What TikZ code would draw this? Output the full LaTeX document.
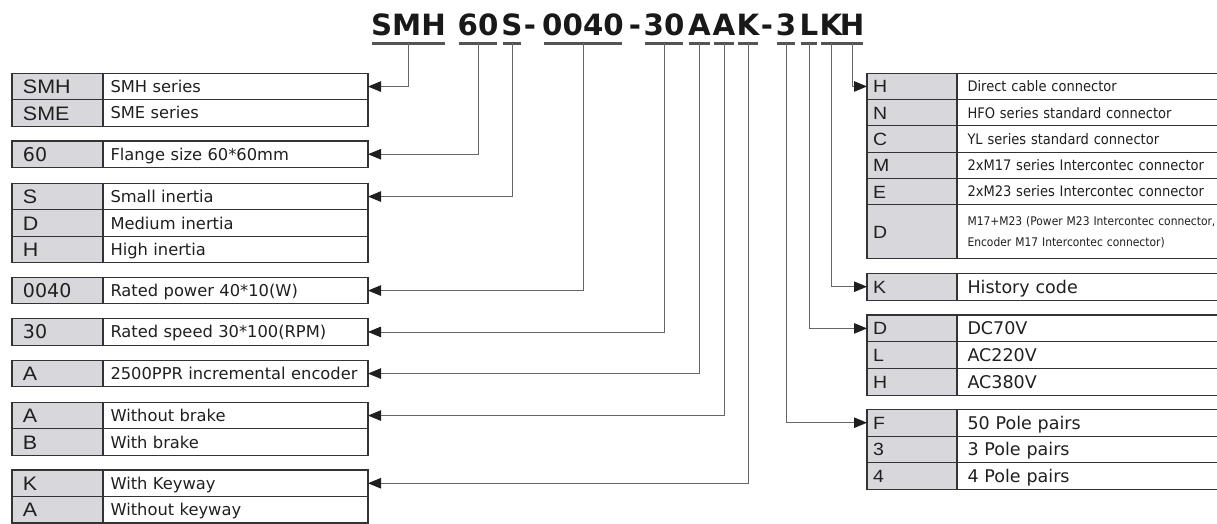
\documentclass[tikz,border=0pt]{standalone}
\usepackage{fontspec}
\setmainfont{DejaVu Sans}
\newfontfamily\codefont{Liberation Sans}[FakeStretch=1.1]
\newfontfamily\titlefont{DejaVu Sans}
\newfontfamily\narrowfont{DejaVu Sans}[FakeStretch=0.9]
\usepackage{tikz}
\usetikzlibrary{arrows.meta,positioning}
\definecolor{codegray}{RGB}{216,216,220}
\definecolor{rulegray}{RGB}{51,51,51}
\tikzset{
  >={Triangle[length=13pt,width=10.5pt,color=black!88]},
  cell/.style={draw=rulegray, line width=1.1pt, anchor=north west, align=left, inner ysep=0pt, outer sep=0pt, text=black!88},
  lcode/.style={cell, fill=codegray, text width=69pt, inner xsep=11pt, minimum height=26.5pt, font=\codefont\fontsize{19.5}{22}\selectfont, text height=14pt, text depth=0pt},
  lnum/.style={lcode, font=\fontsize{19}{22}\selectfont},
  ldesc/.style={cell, text width=250pt, inner xsep=7.5pt, minimum height=26.5pt, font=\fontsize{16.3}{19}\selectfont, text height=11.9pt, text depth=0pt},
  rcode/.style={cell, fill=codegray, text width=78pt, inner xsep=6pt, minimum height=26.3pt, font=\codefont\fontsize{17.7}{20}\selectfont, text height=12.7pt, text depth=0pt},
  rdesc/.style={cell, text width=262pt, inner xsep=10.5pt, minimum height=26.3pt, font=\narrowfont\fontsize{14.5}{17}\selectfont, text height=10.6pt, text depth=0pt},
  rcodel/.style={rcode, minimum height=26.8pt},
  rdescl/.style={rdesc, minimum height=26.8pt, font=\fontsize{17.5}{20}\selectfont, text height=12.8pt},
  digit/.style={font=\titlefont\bfseries\fontsize{29.3}{32}\selectfont, inner sep=0pt, anchor=base, text=black!90},
  uline/.style={draw=black!67, line width=3pt},
  lead/.style={->, draw=black!60, line width=0.9pt},
}
\begin{document}
\begin{tikzpicture}[x=1pt, y=-1pt]
  \useasboundingbox (0,0) rectangle (1217,524);
  % model code
  \node[digit] (cser) at (408.5,36) {SMH};
  \node[digit] (cfl) at (478,36) {60};
  \node[digit] (cin) at (512,36) {S};
  \node[digit] (d1) at (530,36) {-};
  \node[digit] (cpw) at (583,36) {0040};
  \node[digit] (d2) at (635,36) {-};
  \node[digit] (csp) at (664,36) {30};
  \node[digit] (cenc) at (699.5,36) {A};
  \node[digit] (cbr) at (724,36) {A};
  \node[digit] (ckey) at (748,36) {K};
  \node[digit] (d3) at (767,36) {-};
  \node[digit] (cpole) at (786,36) {3};
  \node[digit] (cvolt) at (809,36) {L};
  \node[digit] (chist) at (831,36) {K};
  \node[digit] (ccon) at (852,36) {H};
  \coordinate (ul) at (0,43.5);
  \foreach \g in {cser,cfl,cin,cpw,csp,cenc,cbr,ckey,cpole,cvolt,chist,ccon}
    \draw[uline] ([xshift=1.5pt]\g.west |- ul) -- ([xshift=-1.5pt]\g.east |- ul);

  % left tables
  \node[lcode] (smh) at (12,73.3) {SMH};
  \node[ldesc, right=0pt of smh] (smhd) {SMH series};
  \node[lcode, below=0pt of smh] (sme) {SME};
  \node[ldesc, right=0pt of sme] (smed) {SME series};
  \node[lnum] (fl) at (12,141) {60};
  \node[ldesc, right=0pt of fl] (fld) {Flange size 60*60mm};
  \node[lcode] (inS) at (12,183.3) {S};
  \node[ldesc, right=0pt of inS] (inSd) {Small inertia};
  \node[lcode, below=0pt of inS] (inD) {D};
  \node[ldesc, right=0pt of inD] (inDd) {Medium inertia};
  \node[lcode, below=0pt of inD] (inH) {H};
  \node[ldesc, right=0pt of inH] (inHd) {High inertia};
  \node[lnum] (pw) at (12,277.3) {0040};
  \node[ldesc, right=0pt of pw] (pwd) {Rated power 40*10(W)};
  \node[lnum] (sp) at (12,318.7) {30};
  \node[ldesc, right=0pt of sp] (spd) {Rated speed 30*100(RPM)};
  \node[lcode] (enc) at (12,360.3) {A};
  \node[ldesc, right=0pt of enc] (encd) {2500PPR incremental encoder};
  \node[lcode] (brA) at (12,402.3) {A};
  \node[ldesc, right=0pt of brA] (brAd) {Without brake};
  \node[lcode, below=0pt of brA] (brB) {B};
  \node[ldesc, right=0pt of brB] (brBd) {With brake};
  \node[lcode] (keyK) at (12,470) {K};
  \node[ldesc, right=0pt of keyK] (keyKd) {With Keyway};
  \node[lcode, below=0pt of keyK] (keyA) {A};
  \node[ldesc, right=0pt of keyA] (keyAd) {Without keyway};

  % right tables
  \node[rcode] (conH) at (867,73.3) {H};
  \node[rdesc, right=0pt of conH] (conHd) {Direct cable connector};
  \node[rcode, below=0pt of conH] (conN) {N};
  \node[rdesc, right=0pt of conN] (conNd) {HFO series standard connector};
  \node[rcode, below=0pt of conN] (conC) {C};
  \node[rdesc, right=0pt of conC] (conCd) {YL series standard connector};
  \node[rcode, below=0pt of conC] (conM) {M};
  \node[rdesc, right=0pt of conM] (conMd) {2xM17 series Intercontec connector};
  \node[rcode, below=0pt of conM] (conE) {E};
  \node[rdesc, right=0pt of conE] (conEd) {2xM23 series Intercontec connector};
  \node[rcode, below=0pt of conE, minimum height=54pt] (conD) {D};
  \node[rdesc, right=0pt of conD, minimum height=54pt, text height=, text depth=,
        font=\narrowfont\fontsize{11.9}{21}\selectfont] (conDd)
        {M17+M23 (Power M23 Intercontec connector,\\Encoder M17 Intercontec connector)};
  \node[rcodel] (hist) at (867,273.3) {K};
  \node[rdescl, right=0pt of hist] (histd) {History code};
  \node[rcodel] (vD) at (867,315) {D};
  \node[rdescl, right=0pt of vD] (vDd) {DC70V};
  \node[rcodel, below=0pt of vD] (vL) {L};
  \node[rdescl, right=0pt of vL] (vLd) {AC220V};
  \node[rcodel, below=0pt of vL] (vH) {H};
  \node[rdescl, right=0pt of vH] (vHd) {AC380V};
  \node[rcodel] (pF) at (867,409.3) {F};
  \node[rdescl, right=0pt of pF] (pFd) {50 Pole pairs};
  \node[rcodel, below=0pt of pF] (p3) {3};
  \node[rdescl, right=0pt of p3] (p3d) {3 Pole pairs};
  \node[rcodel, below=0pt of p3] (p4) {4};
  \node[rdescl, right=0pt of p4] (p4d) {4 Pole pairs};

  % leaders
  \draw[lead] (cser |- ul) |- (smhd.east);
  \draw[lead] (cfl |- ul) |- (fld.east);
  \draw[lead] (cin |- ul) |- (inSd.east);
  \draw[lead] (cpw |- ul) |- (pwd.east);
  \draw[lead] (csp |- ul) |- (spd.east);
  \draw[lead] (cenc |- ul) |- (encd.east);
  \draw[lead] (cbr |- ul) |- (brAd.east);
  \draw[lead] (ckey |- ul) |- (keyKd.east);
  \draw[lead] (ccon |- ul) |- (conH.west);
  \draw[lead] (chist |- ul) |- (hist.west);
  \draw[lead] (cvolt |- ul) |- (vD.west);
  \draw[lead] (cpole |- ul) |- (pF.west);
\end{tikzpicture}
\end{document}
